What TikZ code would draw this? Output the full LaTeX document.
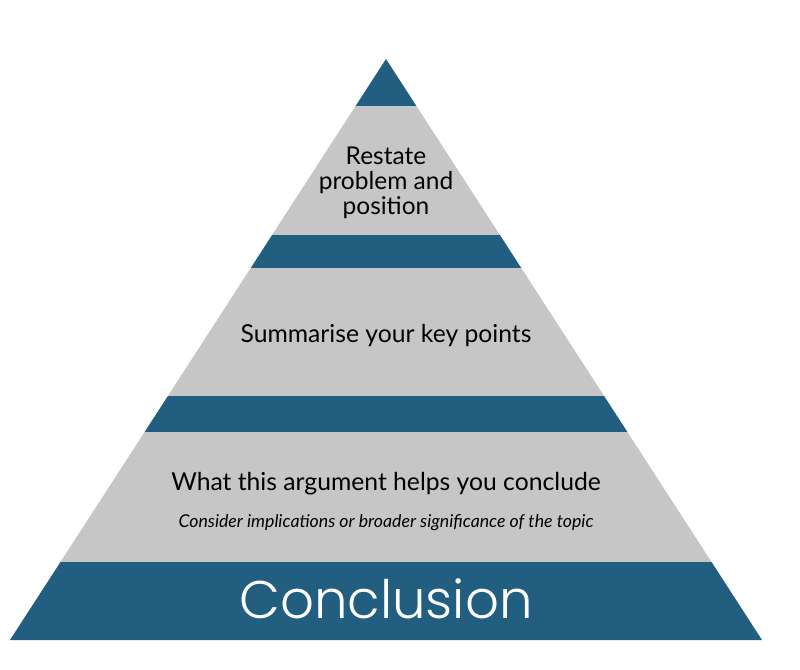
\documentclass[tikz,border=0pt]{standalone}
\usepackage{fontspec}
\setmainfont{Lato}
\newfontfamily\popfont{Poppins Light}
\definecolor{bandblue}{HTML}{215E7F}
\definecolor{layergray}{HTML}{C6C6C6}
\begin{document}
\begin{tikzpicture}[x=1pt,y=-1pt,
    label/.style={text=black,inner sep=0pt,align=center},
    title/.style={text=white,inner sep=0pt,font=\popfont\fontsize{53}{56}\selectfont}]
    \tikzstyle{slab}=[draw=none]
    \useasboundingbox (0,0) rectangle (800,669);

    % pyramid slabs, top to bottom
    \foreach \ya/\yb/\col in {59/106/bandblue,106/235/layergray,235/268/bandblue,
        268/396/layergray,396/432/bandblue,432/562/layergray,562/640/bandblue}
        \fill[slab,\col] ({386-0.6472*(\ya-59)},\ya) -- ({386+0.6472*(\ya-59)},\ya)
            -- ({386+0.6472*(\yb-59)},\yb) -- ({386-0.6472*(\yb-59)},\yb) -- cycle;

    \node[label,font=\fontsize{24.5}{25}\selectfont] (restate) at (386,183)
        {Restate\\problem and\\position};
    \node[label,font=\fontsize{24.7}{26}\selectfont,anchor=base] (summary) at (386,342)
        {Summarise your key points};
    \node[label,font=\fontsize{24.7}{26}\selectfont,anchor=base] (conclude) at (386,490)
        {What this argument helps you conclude};
    \node[label,font=\itshape\fontsize{17.7}{19}\selectfont,anchor=base] (implic) at (386,527)
        {Consider implications or broader significance of the topic};
    \node[title,anchor=base] (conclusion) at (386,618) {Conclusion};

  \end{tikzpicture}
\end{document}
